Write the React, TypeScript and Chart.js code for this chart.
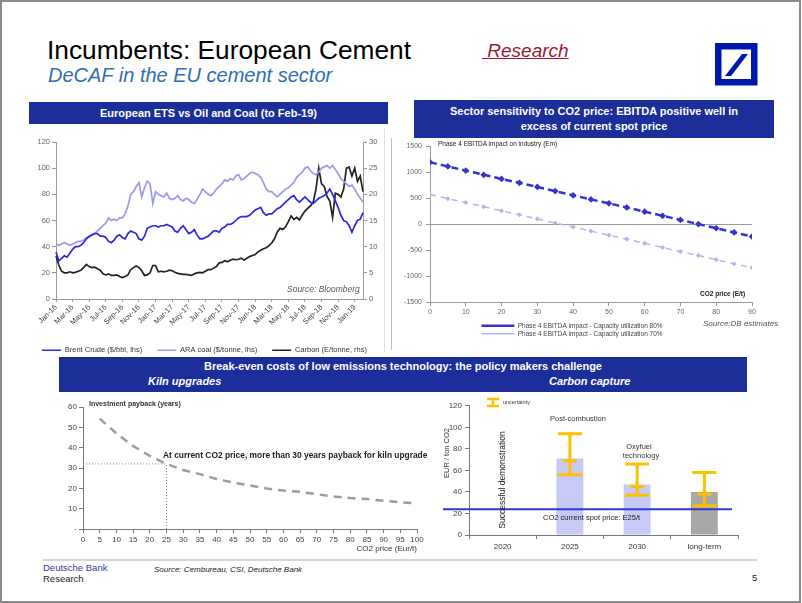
import React, { useEffect, useRef } from "react";
import { Chart, registerables } from "chart.js";
Chart.register(...registerables);

const FONT = '"Liberation Sans", Arial, Helvetica, sans-serif';
Chart.defaults.font.family = FONT;

// ---------- Chart 1: European ETS vs Oil and Coal ----------
const etsMonths = [
  "Jan-16", "Feb-16", "Mar-16", "Apr-16", "May-16", "Jun-16", "Jul-16", "Aug-16", "Sep-16", "Oct-16", "Nov-16", "Dec-16",
  "Jan-17", "Feb-17", "Mar-17", "Apr-17", "May-17", "Jun-17", "Jul-17", "Aug-17", "Sep-17", "Oct-17", "Nov-17", "Dec-17",
  "Jan-18", "Feb-18", "Mar-18", "Apr-18", "May-18", "Jun-18", "Jul-18", "Aug-18", "Sep-18", "Oct-18", "Nov-18", "Dec-18",
  "Jan-19", "Feb-19",
];
const pointsPerMonth = 3;
const brentCrude = [
  36, 29, 31, 33, 32, 35, 38, 40, 40, 41, 43, 46, 48, 49, 50, 50, 48, 48, 47, 44, 43, 45, 48, 49,
  47, 46, 50, 52, 51, 50, 46, 45, 48, 54, 55, 56, 56, 55, 56, 56, 57, 56, 55, 52, 51, 54, 56, 53,
  50, 51, 53, 49, 46, 46, 47, 48, 50, 52, 52, 51, 54, 55, 57, 57, 58, 60, 62, 63, 63, 63, 64, 66,
  68, 69, 70, 66, 64, 65, 65, 67, 69, 70, 72, 74, 76, 78, 79, 76, 74, 76, 78, 76, 74, 73, 75, 77,
  78, 79, 81, 84, 80, 75, 70, 64, 60, 59, 56, 51, 56, 60, 61, 66,
];
const araCoal = [
  42, 41, 42, 43, 42, 41, 42, 43, 44, 44, 45, 47, 47, 49, 50, 52, 54, 56, 58, 62, 60, 61, 60, 62,
  62, 65, 71, 80, 82, 86, 89, 78, 85, 90, 88, 73, 82, 80, 79, 78, 81, 77, 76, 77, 79, 76, 75, 77,
  76, 74, 73, 76, 80, 84, 82, 80, 79, 81, 84, 86, 88, 91, 90, 92, 91, 94, 95, 91, 92, 94, 96, 97,
  96, 95, 93, 89, 84, 82, 82, 80, 78, 80, 82, 84, 85, 87, 89, 93, 95, 97, 100, 101, 98, 96, 95, 97,
  100, 101, 102, 100, 102, 99, 96, 92, 90, 88, 86, 87, 84, 80, 77, 74,
];
const carbonPrice = [
  8.2, 6.5, 5.3, 5.0, 5.0, 5.2, 5.0, 5.1, 5.3, 5.5, 6.0, 6.6, 6.2, 6.0, 6.1, 5.8, 5.5, 4.8,
  4.6, 4.8, 4.5, 4.5, 4.6, 4.3, 4.1, 4.3, 4.6, 5.6, 6.0, 6.3, 6.0, 5.4, 4.5, 4.6, 5.0, 6.4,
  6.4, 5.2, 5.3, 5.2, 5.3, 5.5, 5.4, 5.1, 4.9, 4.8, 4.7, 4.7, 4.6, 4.5, 4.8, 5.0, 5.1, 5.0,
  5.3, 5.6, 5.6, 5.9, 6.2, 6.9, 7.0, 7.3, 7.1, 7.4, 7.6, 7.5, 7.6, 7.8, 7.4, 7.8, 8.1, 8.3,
  8.5, 9.0, 9.3, 9.6, 9.8, 10.2, 10.7, 11.5, 12.8, 13.5, 13.3, 13.8, 14.8, 15.9, 15.2, 15.6, 15.1, 16.0,
  16.8, 17.3, 17.8, 18.5, 21.0, 25.0, 22.0, 21.5, 19.6, 18.7, 15.6, 20.2, 20.0, 19.5, 21.0, 25.0, 25.2, 23.5,
  25.0, 22.5, 23.5, 20.5,
];
const etsLabels = brentCrude.map((_, i) => etsMonths[Math.floor(i / pointsPerMonth)]);

// ---------- Chart 2: Sector sensitivity ----------
const co2Price = [0, 5, 10, 15, 20, 25, 30, 35, 40, 45, 50, 55, 60, 65, 70, 75, 80, 85, 90];
const ebitdaUtil80 = [1190, 1110, 1030, 950, 870, 795, 715, 635, 555, 475, 400, 320, 240, 160, 80, 0, -80, -160, -240];
const ebitdaUtil70 = [570, 490, 415, 335, 255, 180, 100, 20, -55, -135, -215, -290, -370, -450, -530, -605, -685, -765, -840];

// ---------- Chart 3: Kiln upgrades payback ----------
const kilnCo2Price = [5, 10, 15, 20, 25, 30, 35, 40, 45, 50, 55, 60, 65, 70, 75, 80, 85, 90, 95, 100];
const paybackYears = [54.3, 47, 40.8, 36, 32, 29, 27, 24.6, 22.8, 21.4, 19.9, 18.9, 18.3, 17.1, 16, 15.2, 14.7, 13.9, 13.2, 12.6];
const currentCo2Price = 25;
const currentPayback = 32;

// ---------- Chart 4: Carbon capture ----------
const ccsCategories = ["2020", "2025", "2030", "long-term"];
const ccsCost = [null, 71, 47, 40];
const ccsLow = [null, 56, 37, 27];
const ccsMid = [null, 69, 45, 38];
const ccsHigh = [null, 94, 66, 58];
const spotPriceLine = 24;

function ChartBox({ left, top, width, height, make }: any) {
  const ref = useRef<HTMLCanvasElement>(null);
  useEffect(() => {
    const chart = new Chart(ref.current as HTMLCanvasElement, make());
    return () => chart.destroy();
  }, []);
  return (
    <canvas
      ref={ref}
      width={width}
      height={height}
      style={{ position: "absolute", left, top, width, height }}
    />
  );
}

function T({ x, y, s, children, b, i, c = "#222", align = "left", style }: any) {
  const L = Math.round(s * 1.25);
  const st: any = {
    position: "absolute",
    top: y - L / 2,
    left: x,
    fontSize: s,
    lineHeight: L + "px",
    fontFamily: FONT,
    whiteSpace: "nowrap",
    color: c,
    fontWeight: b ? "bold" : "normal",
    fontStyle: i ? "italic" : "normal",
  };
  if (align === "center") st.transform = "translateX(-50%)";
  if (align === "right") st.transform = "translateX(-100%)";
  return <div style={{ ...st, ...style }}>{children}</div>;
}

function VT({ x, y, s, children, c = "#222" }: any) {
  return (
    <div
      style={{
        position: "absolute",
        left: x,
        top: y,
        fontSize: s,
        lineHeight: "1.2",
        fontFamily: FONT,
        whiteSpace: "nowrap",
        color: c,
        transform: "translate(-50%,-50%) rotate(-90deg)",
      }}
    >
      {children}
    </div>
  );
}

const axisGrey = "#9a9a9a";

function etsConfig(): any {
  const tickFont = { family: FONT, size: 7.5 };
  return {
    type: "line",
    data: {
      labels: etsLabels,
      datasets: [
        { label: "Brent Crude ($/bbl, lhs)", data: brentCrude, borderColor: "#2a2ade", backgroundColor: "#2a2ade", borderWidth: 1.7, pointRadius: 0, yAxisID: "y" },
        { label: "ARA coal ($/tonne, lhs)", data: araCoal, borderColor: "#9a9aec", backgroundColor: "#9a9aec", borderWidth: 1.7, pointRadius: 0, yAxisID: "y" },
        { label: "Carbon (E/tonne, rhs)", data: carbonPrice, borderColor: "#222222", backgroundColor: "#222222", borderWidth: 1.7, pointRadius: 0, yAxisID: "y1" },
      ],
    },
    options: {
      responsive: false,
      animation: false,
      layout: { padding: { top: 12, right: 5, left: 0, bottom: 0 } },
      plugins: {
        tooltip: { enabled: false },
        legend: {
          position: "bottom",
          labels: { font: { family: FONT, size: 7.5 }, color: "#333", usePointStyle: true, pointStyle: "line", pointStyleWidth: 19, padding: 15 },
        },
      },
      scales: {
        x: {
          type: "category",
          ticks: {
            autoSkip: false,
            maxRotation: 45,
            minRotation: 45,
            font: tickFont,
            color: "#444",
            padding: 1,
            callback: (_v: any, i: number) => (i % 6 === 0 ? etsLabels[i] : null),
          },
          grid: { drawOnChartArea: false, tickLength: 3, color: axisGrey },
          border: { color: axisGrey },
          afterFit: (s: any) => { s.height = 32.5; },
        },
        y: {
          min: 0, max: 120,
          ticks: { stepSize: 20, font: tickFont, color: "#666", padding: 2 },
          grid: { drawOnChartArea: false, tickLength: 4, color: axisGrey },
          border: { color: axisGrey },
          afterFit: (s: any) => { s.width = 30; },
        },
        y1: {
          position: "right",
          min: 0, max: 30,
          ticks: { stepSize: 5, font: tickFont, color: "#666", padding: 2 },
          grid: { drawOnChartArea: false, tickLength: 4, color: axisGrey },
          border: { color: axisGrey },
          afterFit: (s: any) => { s.width = 20; },
        },
      },
    },
  };
}

function sensConfig(): any {
  const tickFont = { family: FONT, size: 7 };
  return {
    type: "line",
    data: {
      datasets: [
        {
          label: "Phase 4 EBITDA impact - Capacity utilization 80%",
          data: ebitdaUtil80.map((v, i) => ({ x: co2Price[i], y: v })),
          borderColor: "#3434cf", backgroundColor: "#3434cf", borderWidth: 2.5, borderDash: [7, 4],
          pointRadius: 1.6, pointStyle: "rectRot",
        },
        {
          label: "Phase 4 EBITDA impact - Capacity utilization 70%",
          data: ebitdaUtil70.map((v, i) => ({ x: co2Price[i], y: v })),
          borderColor: "#b6b6ee", backgroundColor: "#a9a9e8", borderWidth: 1.5, borderDash: [6, 5],
          pointRadius: 1.5, pointStyle: "rectRot",
        },
      ],
    },
    options: {
      responsive: false,
      animation: false,
      layout: { padding: { top: 6, right: 48, left: 0, bottom: 0 } },
      plugins: {
        tooltip: { enabled: false },
        legend: {
          position: "bottom",
          labels: { font: { family: FONT, size: 6.5 }, color: "#444", usePointStyle: true, pointStyle: "line", pointStyleWidth: 33, padding: 1.5 },
        },
      },
      scales: {
        x: {
          type: "linear", min: 0, max: 90,
          ticks: { stepSize: 10, font: tickFont, color: "#666", padding: 2 },
          grid: { drawOnChartArea: false, tickLength: 4, color: axisGrey },
          border: { color: axisGrey },
          afterFit: (s: any) => { s.height = 19; },
        },
        y: {
          min: -1500, max: 1500,
          ticks: { stepSize: 500, font: tickFont, color: "#666", padding: 4, callback: (v: number) => String(v) },
          grid: {
            color: (ctx: any) => (ctx.tick && ctx.tick.value === 0 ? axisGrey : "rgba(0,0,0,0)"),
            tickColor: axisGrey, tickLength: 4,
          },
          border: { color: axisGrey },
          afterFit: (s: any) => { s.width = 38; },
        },
      },
    },
  };
}

function kilnConfig(): any {
  const tickFont = { family: FONT, size: 8 };
  return {
    type: "line",
    data: {
      datasets: [
        {
          label: "Investment payback (years)",
          data: paybackYears.map((v, i) => ({ x: kilnCo2Price[i], y: v })),
          borderColor: "#9c9c9c", borderWidth: 2.5, borderDash: [8, 6], pointRadius: 0,
        },
        {
          label: "payback at current price",
          data: [{ x: 0, y: currentPayback }, { x: currentCo2Price, y: currentPayback }],
          borderColor: "#8a8a8a", borderWidth: 1, borderDash: [1, 2], pointRadius: 0,
        },
        {
          label: "current price",
          data: [{ x: currentCo2Price, y: 0 }, { x: currentCo2Price, y: currentPayback }],
          borderColor: "#8a8a8a", borderWidth: 1, borderDash: [1, 2], pointRadius: 0,
        },
      ],
    },
    options: {
      responsive: false,
      animation: false,
      layout: { padding: { top: 9, right: 13, left: 0, bottom: 0 } },
      plugins: { legend: { display: false }, tooltip: { enabled: false } },
      scales: {
        x: {
          type: "linear", min: 0, max: 100,
          ticks: { stepSize: 5, font: tickFont, color: "#444", padding: 2, autoSkip: false, maxRotation: 0, minRotation: 0 },
          grid: { drawOnChartArea: false, tickLength: 4, color: "#777" },
          border: { color: "#777" },
          title: { display: true, text: "CO2 price (Eur/t)", align: "end", font: { family: FONT, size: 8 }, color: "#333", padding: { top: 1, bottom: 0 } },
          afterFit: (s: any) => { s.height = 25; },
        },
        y: {
          min: 0, max: 60,
          ticks: { stepSize: 10, font: tickFont, color: "#444", padding: 2, callback: (v: number) => (v === 0 ? "-" : v) },
          grid: { drawOnChartArea: false, tickLength: 4, color: "#777" },
          border: { color: "#777" },
          afterFit: (s: any) => { s.width = 25; },
        },
      },
    },
  };
}

const ccsPlugin = {
  id: "ccsOverlay",
  afterDatasetsDraw(chart: any) {
    const { ctx, chartArea, scales } = chart;
    const x = scales.x;
    const y = scales.y;
    ctx.save();
    const ys = y.getPixelForValue(spotPriceLine);
    ctx.strokeStyle = "#2e3ad4";
    ctx.lineWidth = 2;
    ctx.beginPath();
    ctx.moveTo(chartArea.left - 26, ys);
    ctx.lineTo(chartArea.right - 6, ys);
    ctx.stroke();
    ctx.strokeStyle = "#FFC000";
    ctx.lineWidth = 3;
    ccsHigh.forEach((hi, i) => {
      if (hi == null) return;
      const cx = x.getPixelForValue(i);
      const yh = y.getPixelForValue(hi);
      const yl = y.getPixelForValue(ccsLow[i] as number);
      const ym = y.getPixelForValue(ccsMid[i] as number);
      ctx.beginPath();
      ctx.moveTo(cx, yl); ctx.lineTo(cx, yh);
      ctx.moveTo(cx - 12, yh); ctx.lineTo(cx + 12, yh);
      ctx.moveTo(cx - 12, yl); ctx.lineTo(cx + 12, yl);
      ctx.moveTo(cx - 7, ym); ctx.lineTo(cx + 7, ym);
      ctx.stroke();
    });
    ctx.restore();
  },
};

function ccsConfig(): any {
  const tickFont = { family: FONT, size: 8 };
  return {
    type: "bar",
    data: {
      labels: ccsCategories,
      datasets: [
        {
          label: "Break-even cost",
          data: ccsCost,
          backgroundColor: ["#c6caf4", "#c6caf4", "#c6caf4", "#a8a8a8"],
          barPercentage: 0.4,
          categoryPercentage: 1,
        },
      ],
    },
    plugins: [ccsPlugin],
    options: {
      responsive: false,
      animation: false,
      layout: { padding: { top: 5, right: 6, left: 0, bottom: 0 } },
      plugins: { legend: { display: false }, tooltip: { enabled: false } },
      scales: {
        x: {
          ticks: { font: tickFont, color: "#333", padding: 3 },
          grid: { drawOnChartArea: false, tickLength: 4, color: "#777", offset: true },
          border: { color: "#777" },
          afterFit: (s: any) => { s.height = 23; },
        },
        y: {
          min: 0, max: 120,
          ticks: { stepSize: 20, font: tickFont, color: "#444", padding: 3 },
          grid: { drawOnChartArea: false, tickLength: 4, color: "#777" },
          border: { color: "#777" },
          afterFit: (s: any) => { s.width = 37; },
        },
      },
    },
  };
}

const barBlue = "#1b2e9a";

export default function App() {
  return (
    <div style={{ position: "absolute", left: 0, top: 0, width: 802, height: 603, background: "#fff", overflow: "hidden", fontFamily: FONT }}>
      {/* Titles */}
      <T x={47} y={50} s={26.3} c="#000">Incumbents: European Cement</T>
      <T x={48} y={75} s={20} i c="#2f6eb5">DeCAF in the EU cement sector</T>
      <T x={482} y={50.5} s={19} i c="#a01830" style={{ textDecoration: "underline" }}>{"\u00a0Research"}</T>
      <svg width={43} height={43} style={{ position: "absolute", left: 715, top: 43 }}>
        <rect x={3.25} y={3.25} width={36} height={36} fill="none" stroke="#0018a8" strokeWidth={6.5} />
        <polygon points="27,11 33,11 16,33 10,33" fill="#0018a8" />
      </svg>
      <div style={{ position: "absolute", left: 470, top: 97, width: 300, height: 1, background: "#e4f1f7" }} />

      {/* Section headers */}
      <div style={{ position: "absolute", left: 29, top: 102, width: 359, height: 22, background: barBlue, color: "#fff", fontWeight: "bold", fontSize: 11, lineHeight: "22px", textAlign: "center", whiteSpace: "nowrap" }}>
        European ETS vs Oil and Coal (to Feb-19)
      </div>
      <div style={{ position: "absolute", left: 414, top: 100, width: 360, height: 38, background: barBlue, color: "#fff", fontWeight: "bold", fontSize: 11, lineHeight: "15px", textAlign: "center", paddingTop: 4, boxSizing: "border-box" }}>
        Sector sensitivity to CO2 price: EBITDA positive well in<br />excess of current spot price
      </div>
      <div style={{ position: "absolute", left: 59, top: 357, width: 688, height: 35, background: barBlue }} />
      <T x={403} y={366} s={11} b c="#fff" align="center">Break-even costs of low emissions technology: the policy makers challenge</T>
      <T x={148} y={380.5} s={11} b i c="#fff">Kiln upgrades</T>
      <T x={549} y={380.5} s={11} b i c="#fff">Carbon capture</T>

      {/* separators */}
      <div style={{ position: "absolute", left: 384, top: 128, width: 1, height: 224, background: "#e2e2e2" }} />
      <div style={{ position: "absolute", left: 391, top: 138, width: 1, height: 212, background: "#bdbdbd" }} />
      <div style={{ position: "absolute", left: 43, top: 559, width: 714, height: 1.5, background: "#d6d6d6" }} />

      {/* Charts */}
      <ChartBox left={26} top={130} width={362} height={234} make={etsConfig} />
      <ChartBox left={392} top={138} width={408} height={209} make={sensConfig} />
      <ChartBox left={58} top={398} width={372} height={156} make={kilnConfig} />
      <ChartBox left={432} top={398} width={312} height={160} make={ccsConfig} />

      {/* Chart annotations */}
      <T x={287} y={289} s={8.5} i c="#595959">Source: Bloomberg</T>

      <T x={438} y={143.5} s={6.5} c="#222">Phase 4 EBITDA impact on industry (Em)</T>
      <T x={700} y={294} s={6.5} b c="#222">CO2 price (E/t)</T>
      <T x={703} y={324} s={8} i c="#555">Source:DB estimates</T>

      <T x={89} y={403} s={7} b c="#333">Investment payback (years)</T>
      <T x={163} y={455} s={8.4} b c="#222">At current CO2 price, more than 30 years payback for kiln upgrade</T>

      <svg width={14} height={11} style={{ position: "absolute", left: 486, top: 397 }}>
        <path d="M1 2 H13 M1 9 H13 M7 2 V9" stroke="#FFC000" strokeWidth={2.5} fill="none" />
      </svg>
      <T x={503} y={402} s={5.5} c="#333">uncertainty</T>
      <T x={578} y={418} s={7.5} c="#333" align="center">Post-combustion</T>
      <T x={639} y={446} s={7.5} c="#333" align="center">Oxyfuel</T>
      <T x={641} y={455} s={7.5} c="#333" align="center">technology</T>
      <T x={543} y={517} s={7.5} c="#222">CO2 current spot price: E25/t</T>
      <VT x={502} y={480} s={8.5} c="#222">Successful demonstration</VT>
      <VT x={446} y={453} s={7.5} c="#333">EUR / ton CO2</VT>

      {/* Footer */}
      <T x={43} y={567.7} s={9.5} c="#3535a8">Deutsche Bank</T>
      <T x={43} y={579} s={9.5} c="#222">Research</T>
      <T x={154} y={570} s={8} i c="#222">Source: Cembureau, CSI, Deutsche Bank</T>
      <T x={752} y={578} s={9.5} c="#222">5</T>

      {/* slide border */}
      <div style={{ position: "absolute", left: 0, top: 0, width: 801, height: 603, boxSizing: "border-box", border: "2px solid #8a8a8a", pointerEvents: "none" }} />
    </div>
  );
}
